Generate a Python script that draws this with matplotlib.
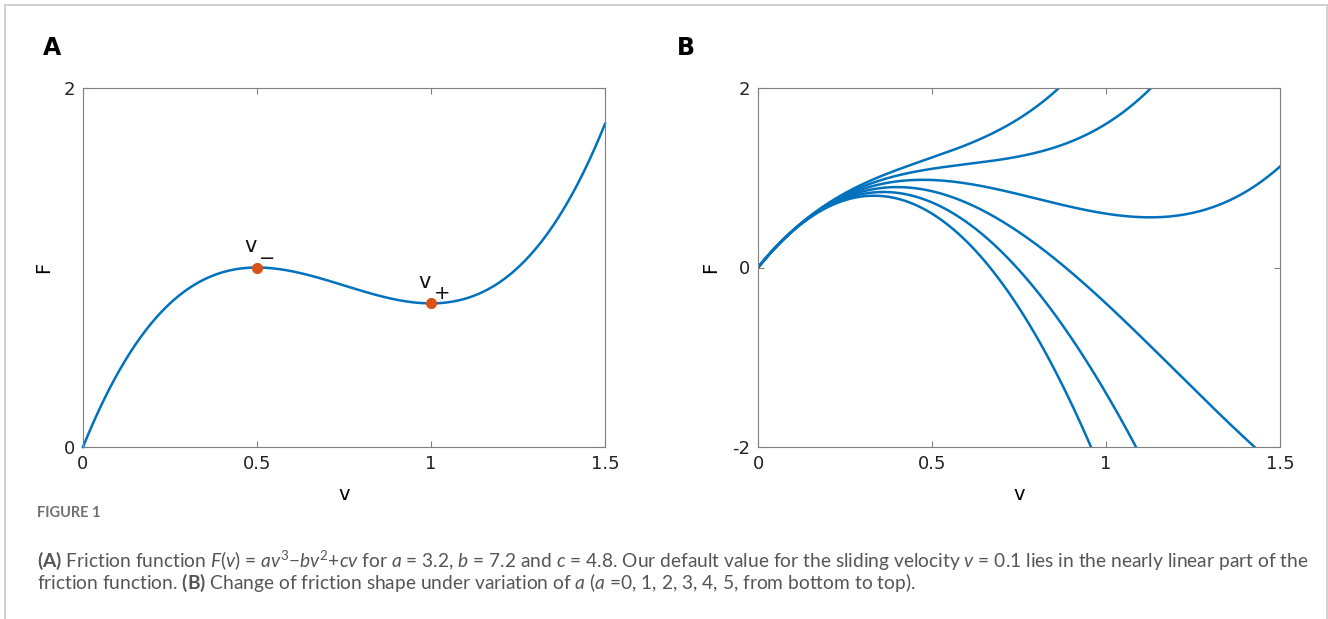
import numpy as np
import matplotlib.pyplot as plt
from matplotlib.patches import Rectangle

# parâmetros da função de atrito F(v) = a*v^3 - b*v^2 + c*v
a_A = 3.2
b = 7.2
c = 4.8
a_B = [0, 1, 2, 3, 4, 5]          # variação de a no painel B
v_marcas = [0.5, 1.0]             # extremos locais v- e v+
sinais_marcas = ['−', '+']
v = np.linspace(0, 1.5, 500)

azul = '#0072BD'
laranja = '#D95319'

def atrito(v, a):
    return a * v**3 - b * v**2 + c * v

plt.rcParams['font.family'] = ['DejaVu Sans']
plt.rcParams['axes.unicode_minus'] = False
plt.rcParams['mathtext.fontset'] = 'custom'
plt.rcParams['mathtext.rm'] = 'Lato'
plt.rcParams['mathtext.it'] = 'Lato:italic'
plt.rcParams['mathtext.bf'] = 'Lato:bold'

W, H = 1328, 619
fig = plt.figure(figsize=(W / 100, H / 100), dpi=100)

def estilo_eixo(ax):
    for s in ax.spines.values():
        s.set_color('#808080')
        s.set_linewidth(0.8)
    ax.tick_params(direction='in', length=4, width=0.8, color='#808080',
                   top=True, right=True, labelsize=13, pad=6, labelcolor='#222222')
    ax.set_xlim(0, 1.5)
    ax.set_xticks([0, 0.5, 1, 1.5])
    ax.set_xticklabels(['0', '0.5', '1', '1.5'])

# painel A
axA = fig.add_axes([83 / W, 1 - 447 / H, 522 / W, 359 / H])
axA.plot(v, atrito(v, a_A), color=azul, lw=1.8, clip_on=False)
F_marcas = [atrito(x, a_A) for x in v_marcas]
axA.plot(v_marcas, F_marcas, 'o', color=laranja, ms=7, zorder=3)
for x, f, sinal in zip(v_marcas, F_marcas, sinais_marcas):
    axA.text(x - 0.037, f + 0.084, 'v', fontsize=15, ha='left', va='baseline', color='#111111')
    axA.annotate(sinal, (x - 0.037, f + 0.084), xytext=(11, -8), textcoords='offset points',
                 fontsize=14, ha='left', va='baseline', color='#111111')
axA.set_ylim(0, 2)
axA.set_yticks([0, 2])
estilo_eixo(axA)
axA.set_xlabel('v', fontsize=14)
axA.set_ylabel('F', fontsize=14)
axA.xaxis.set_label_coords(0.5, -0.105)
axA.yaxis.set_label_coords(-0.058, 0.5)

# painel B
axB = fig.add_axes([758 / W, 1 - 447 / H, 522 / W, 359 / H])
for a in a_B:
    axB.plot(v, atrito(v, a), color=azul, lw=1.8)
axB.set_ylim(-2, 2)
axB.set_yticks([-2, 0, 2])
estilo_eixo(axB)
axB.set_xlabel('v', fontsize=14)
axB.set_ylabel('F', fontsize=14)
axB.xaxis.set_label_coords(0.5, -0.105)
axB.yaxis.set_label_coords(-0.073, 0.5)

fig.text(52 / W, 1 - 48 / H, 'A', fontsize=17, fontweight='bold', ha='center', va='center')
fig.text(686 / W, 1 - 48 / H, 'B', fontsize=17, fontweight='bold', ha='center', va='center')

# legenda da figura
cinza = '#555555'
fig.text(37 / W, 1 - 513 / H, 'FIGURE 1', fontsize=10.5, family='Lato', fontweight='bold',
         color='#707070', va='center')
linha1 = (r'$\mathbf{(A)}$ Friction function $F(v)$ = $av^3$−$bv^2$+$cv$ for $a$ = 3.2, '
          r'$b$ = 7.2 and $c$ = 4.8. Our default value for the sliding velocity $v$ = 0.1 '
          r'lies in the nearly linear part of the')
linha2 = (r'friction function. $\mathbf{(B)}$ Change of friction shape under variation of '
          r'$a$ ($a$ =0, 1, 2, 3, 4, 5, from bottom to top).')
fig.text(37 / W, 1 - 560 / H, linha1, fontsize=13.75, family='Lato', color=cinza, va='center')
fig.text(37 / W, 1 - 583 / H, linha2, fontsize=13.75, family='Lato', color=cinza, va='center')

# moldura cinza em volta da figura
fig.patches.append(Rectangle((4.5 / W, -0.05), (W - 6) / W, 1 - 4.5 / H + 0.05,
                             transform=fig.transFigure, fill=False,
                             edgecolor='#c8c8c8', lw=1.2))

fig.savefig('out.png', dpi=100)
